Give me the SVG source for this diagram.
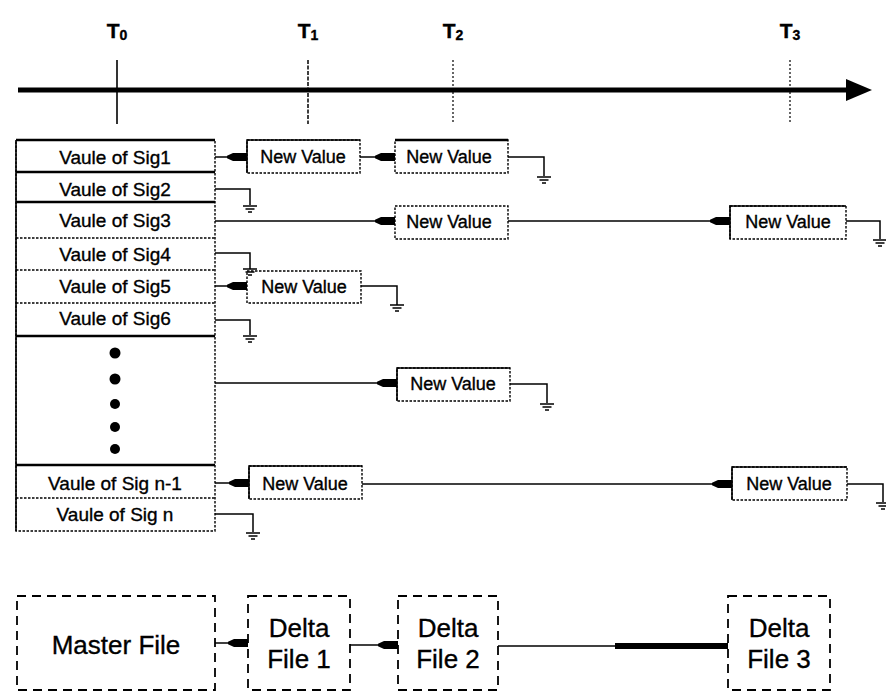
<svg xmlns="http://www.w3.org/2000/svg" width="886" height="694" viewBox="0 0 886 694">
<style>
  text { font-family: "Liberation Sans", Arial, sans-serif; fill: #000; stroke: #000; stroke-width: 0.35; }
  .row { font-size: 19px; text-anchor: middle; }
  .nv { font-size: 18px; text-anchor: middle; }
  .big { font-size: 26px; text-anchor: middle; }
  .tl { font-size: 21px; font-weight: bold; text-anchor: middle; }
  .tl tspan { font-size: 14px; }
  .dot { fill: none; stroke: #000; stroke-width: 1.4; stroke-dasharray: 2.5 1.5; }
  .sol { fill: none; stroke: #000; stroke-width: 1.6; }
  .thick { fill: none; stroke: #000; stroke-width: 2.6; }
  .dash { fill: none; stroke: #000; stroke-width: 1.8; stroke-dasharray: 9 6; }
  .conn { fill: none; stroke: #000; stroke-width: 1.5; }
  .plugged { marker-end: url(#plug); }
  .gnd { fill: none; stroke: #000; stroke-width: 1.5; }
</style>
<defs>
  <marker id="plug" markerUnits="userSpaceOnUse" markerWidth="24" markerHeight="14" viewBox="-22 -7 24 14" refX="0" refY="0" orient="auto" overflow="visible">
    <path d="M-20,-1.2 L-14,-4 L0,-4 L0,4 L-14,4 L-20,1.2 Z" fill="#000"/>
  </marker>
  <g id="ground">
    <path d="M-7,0 h14 M-4.5,3 h9 M-2,6 h4" />
  </g>
</defs>

<!-- timeline -->
<g id="timeline">
  <line x1="18" y1="90" x2="855" y2="90" stroke="#000" stroke-width="5"/>
  <polygon points="846,79 872,90 846,101" fill="#000"/>
  <line x1="117" y1="60" x2="117" y2="124" stroke="#000" stroke-width="1.6"/>
  <line x1="308" y1="60" x2="308" y2="124" stroke="#000" stroke-width="1.5" stroke-dasharray="4 1.5"/>
  <line x1="453" y1="60" x2="453" y2="124" stroke="#000" stroke-width="1.2" stroke-dasharray="2 2"/>
  <line x1="790" y1="60" x2="790" y2="124" stroke="#000" stroke-width="1.2" stroke-dasharray="2 2"/>
  <text class="tl" x="117" y="38">T<tspan dy="2">0</tspan></text>
  <text class="tl" x="308" y="38">T<tspan dy="2">1</tspan></text>
  <text class="tl" x="453" y="38">T<tspan dy="2">2</tspan></text>
  <text class="tl" x="790" y="38">T<tspan dy="2">3</tspan></text>
</g>

<!-- signal column -->
<g id="signals">
  <rect class="dot" x="16" y="140" width="199" height="391"/>
  <line class="thick" x1="16" y1="140" x2="215" y2="140"/>
  <line class="sol" x1="16" y1="140" x2="16" y2="531"/>
  <line class="thick" x1="16" y1="172" x2="215" y2="172"/>
  <line class="thick" x1="16" y1="202" x2="215" y2="202"/>
  <line class="dot" x1="16" y1="238" x2="215" y2="238"/>
  <line class="dot" x1="16" y1="270" x2="215" y2="270"/>
  <line class="dot" x1="16" y1="303" x2="215" y2="303"/>
  <line class="thick" x1="16" y1="336" x2="215" y2="336"/>
  <line class="thick" x1="16" y1="465" x2="215" y2="465"/>
  <line class="dot" x1="16" y1="498" x2="215" y2="498"/>
</g>
<g id="sig1"><text class="row" x="115" y="164">Vaule of Sig1</text></g>
<g id="sig2"><text class="row" x="115" y="196">Vaule of Sig2</text></g>
<g id="sig3"><text class="row" x="115" y="227">Vaule of Sig3</text></g>
<g id="sig4"><text class="row" x="115" y="261">Vaule of Sig4</text></g>
<g id="sig5"><text class="row" x="115" y="293">Vaule of Sig5</text></g>
<g id="sig6"><text class="row" x="115" y="325">Vaule of Sig6</text></g>
<g id="ellipsis">
  <circle cx="115" cy="353" r="5.5"/>
  <circle cx="115" cy="379" r="5.5"/>
  <circle cx="115" cy="404" r="5"/>
  <circle cx="115" cy="427" r="5"/>
  <circle cx="115" cy="449" r="5"/>
</g>
<g id="sign1"><text class="row" x="115" y="490">Vaule of Sig n-1</text></g>
<g id="sign"><text class="row" x="115" y="521">Vaule of Sig n</text></g>

<!-- New Value nodes -->
<g id="nv1a"><rect class="dot" x="247" y="140" width="113" height="33"/><path class="sol" d="M247,173 V140 H360"/><text class="nv" x="303" y="163">New Value</text></g>
<g id="nv1b"><rect class="dot" x="395" y="140" width="113" height="33"/><path class="thick" d="M395,140 H508"/><text class="nv" x="449" y="163">New Value</text></g>
<g id="nv3a"><rect class="dot" x="395" y="206" width="113" height="33"/><text class="nv" x="449" y="228">New Value</text></g>
<g id="nv3b"><rect class="dot" x="730" y="206" width="116" height="33"/><path class="sol" d="M730,239 V206 H846"/><text class="nv" x="788" y="228">New Value</text></g>
<g id="nv5"><rect class="dot" x="247" y="271" width="114" height="32"/><text class="nv" x="304" y="293">New Value</text></g>
<g id="nvdots"><rect class="dot" x="397" y="368" width="113" height="33"/><path class="sol" d="M397,401 V368 H510"/><text class="nv" x="453" y="390">New Value</text></g>
<g id="nvn1a"><rect class="dot" x="249" y="466" width="113" height="33"/><path class="sol" d="M249,499 V466 H362"/><text class="nv" x="305" y="490">New Value</text></g>
<g id="nvn1b"><rect class="dot" x="732" y="467" width="115" height="33"/><path class="sol" d="M732,500 V467 H847"/><text class="nv" x="789" y="490">New Value</text></g>

<!-- file nodes -->
<g id="master"><rect class="dash" x="17" y="596" width="198" height="94"/><text class="big" x="116" y="654">Master File</text></g>
<g id="delta1"><rect class="dash" x="248" y="596" width="102" height="94"/><text class="big" x="299" y="637">Delta</text><text class="big" x="299" y="668">File 1</text></g>
<g id="delta2"><rect class="dash" x="398" y="596" width="100" height="94"/><text class="big" x="448" y="637">Delta</text><text class="big" x="448" y="668">File 2</text></g>
<g id="delta3"><rect class="dash" x="728" y="596" width="102" height="94"/><text class="big" x="779" y="637">Delta</text><text class="big" x="779" y="668">File 3</text></g>

<!-- connectors -->
<g id="connectors">
  <path class="conn plugged" d="M215,157 H247"/>
  <path class="conn plugged" d="M360,157 H395"/>
  <path class="conn" d="M508,157 H544 V176"/>
  <use href="#ground" class="gnd" x="544" y="177"/>

  <path class="conn" d="M215,189 H250 V205"/>
  <use href="#ground" class="gnd" x="250" y="206"/>

  <path class="conn plugged" d="M215,221 H395"/>
  <path class="conn plugged" d="M508,221 H730"/>
  <path class="conn" d="M846,221 H880 V239"/>
  <use href="#ground" class="gnd" x="880" y="240"/>

  <path class="conn" d="M215,253 H250 V269"/>
  <use href="#ground" class="gnd" x="250" y="269"/>

  <path class="conn plugged" d="M215,286 H247"/>
  <path class="conn" d="M361,286 H397 V305"/>
  <use href="#ground" class="gnd" x="397" y="305"/>

  <path class="conn" d="M215,320 H250 V335"/>
  <use href="#ground" class="gnd" x="250" y="336"/>

  <path class="conn plugged" d="M215,383 H397"/>
  <path class="conn" d="M510,384 H547 V403"/>
  <use href="#ground" class="gnd" x="547" y="404"/>

  <path class="conn plugged" d="M215,483 H249"/>
  <path class="conn plugged" d="M362,484 H732"/>
  <path class="conn" d="M847,484 H883 V502"/>
  <use href="#ground" class="gnd" x="883" y="503"/>

  <path class="conn" d="M215,514 H253 V532"/>
  <use href="#ground" class="gnd" x="253" y="533"/>

  <path class="conn plugged" d="M215,643 H248"/>
  <path class="conn plugged" d="M350,645 H398"/>
  <path class="conn" d="M498,646 H615"/>
  <path d="M615,646 H728" stroke="#000" stroke-width="6" fill="none"/>
</g>
</svg>
